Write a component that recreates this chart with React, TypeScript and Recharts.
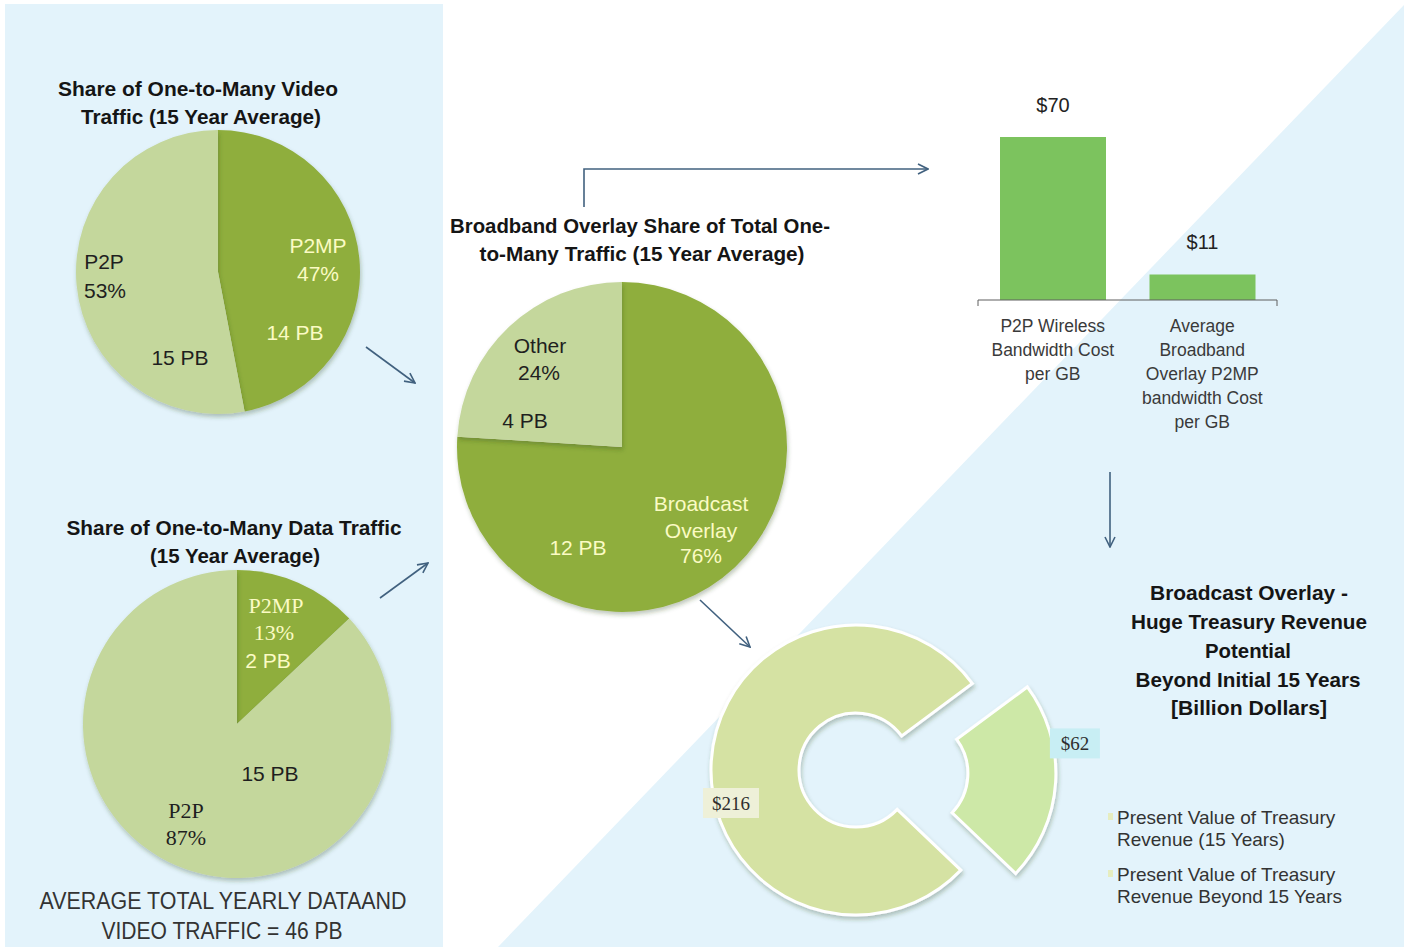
import React from 'react';
import { PieChart, Pie, Cell, BarChart, Bar, XAxis, YAxis, LabelList, Legend } from 'recharts';

const SANS = '"Liberation Sans", Arial, sans-serif';
const SERIF = '"Liberation Serif", "DejaVu Serif", serif';

// one-to-many video traffic
const videoNames = ['P2MP', 'P2P'];
const videoShares = [47, 53];
const videoVolumes = [14, 15];

// one-to-many data traffic
const dataNames = ['P2MP', 'P2P'];
const dataShares = [13, 87];
const dataVolumes = [2, 15];

// broadband overlay share
const overlayNames = ['Broadcast\nOverlay', 'Other'];
const overlayShares = [76, 24];
const overlayVolumes = [12, 4];

// cost per GB
const costCategories = [
  'P2P Wireless\nBandwidth Cost\nper GB',
  'Average\nBroadband\nOverlay P2MP\nbandwidth Cost\nper GB',
];
const costValues = [70, 11];

// treasury revenue, billion dollars
const revenueNames = [
  'Present Value of Treasury\nRevenue (15 Years)',
  'Present Value of Treasury\nRevenue Beyond 15 Years',
];
const revenueValues = [216, 62];

const DARK = '#8fae3e';
const LIGHT = '#c4d79c';
const ON_DARK = '#fbfbc4';
const INK = '#1f1f1f';
const BG = '#e3f3fb';
const ARROW = '#41617f';
const BAR = '#7cc35e';
const REV_COLORS = ['#d5e2a3', '#cde8a7'];

type Pos = { dx: number; dy: number; serif?: boolean };

// label placement, offsets from the pie centre
const videoLayout: Pos[][] = [
  [{ dx: 100, dy: -27 }, { dx: 100, dy: 1 }, { dx: 77, dy: 60 }],
  [{ dx: -114, dy: -11 }, { dx: -113, dy: 18 }, { dx: -38, dy: 85 }],
];
const dataLayout: Pos[][] = [
  [{ dx: 39, dy: -119, serif: true }, { dx: 37, dy: -92, serif: true }, { dx: 31, dy: -64 }],
  [{ dx: -51, dy: 86, serif: true }, { dx: -51, dy: 113, serif: true }, { dx: 33, dy: 49 }],
];
const overlayLayout: Pos[][] = [
  [{ dx: 79, dy: 56 }, { dx: 79, dy: 83 }, { dx: 79, dy: 108 }, { dx: -44, dy: 100 }],
  [{ dx: -82, dy: -102 }, { dx: -83, dy: -75 }, { dx: -97, dy: -27 }],
];

const TITLES = [
  { t: 'Share of One-to-Many  Video', x: 198, y: 88, w: 280, bold: true },
  { t: 'Traffic (15 Year Average)', x: 201, y: 116, w: 240, bold: true },
  { t: 'Share of One-to-Many  Data Traffic', x: 234, y: 527, w: 335, bold: true },
  { t: '(15 Year Average)', x: 235, y: 555, w: 170, bold: true },
  { t: 'AVERAGE TOTAL YEARLY DATAAND', x: 223, y: 901, w: 367, bold: false },
  { t: 'VIDEO TRAFFIC = 46 PB', x: 222, y: 931, w: 241, bold: false },
  { t: 'Broadband Overlay Share of Total One-', x: 640, y: 225, w: 380, bold: true },
  { t: 'to-Many Traffic (15 Year Average)', x: 642, y: 253, w: 325, bold: true },
  { t: 'Broadcast Overlay -', x: 1249, y: 592, w: 198, bold: true },
  { t: 'Huge Treasury Revenue', x: 1249, y: 621, w: 236, bold: true },
  { t: 'Potential', x: 1248, y: 650, w: 86, bold: true },
  { t: 'Beyond Initial 15 Years', x: 1248, y: 679, w: 225, bold: true },
  { t: '[Billion Dollars]', x: 1249, y: 707, w: 156, bold: true },
];

const ARROWS = [
  '366,347 415,383',
  '380,598 428,563',
  '700,600 750,647',
  '1110,472 1110,547',
  '584,207 584,169 928,169',
];

function Backdrop() {
  return (
    <svg width={1404} height={947} style={{ position: 'absolute', left: 0, top: 0 }}>
      <defs>
        <marker id="head" viewBox="0 0 12 12" refX="11" refY="6" markerWidth="12" markerHeight="12"
          markerUnits="userSpaceOnUse" orient="auto">
          <path d="M1,1 L11,6 L1,11" fill="none" stroke={ARROW} strokeWidth="1.6" />
        </marker>
        <filter id="shade" x="-20%" y="-20%" width="140%" height="140%">
          <feDropShadow dx="1" dy="3" stdDeviation="2" floodColor="#334422" floodOpacity="0.3" />
        </filter>
      </defs>
      <rect x={5} y={4} width={438} height={943} fill={BG} />
      <polygon points="1404,5 1404,947 498,947" fill={BG} />
      {ARROWS.map((pts, i) => (
        <polyline key={i} points={pts} fill="none" stroke={ARROW} strokeWidth={1.6} markerEnd="url(#head)" />
      ))}
      {TITLES.map((l, i) => (
        <text key={i} x={l.x} y={l.y} textAnchor="middle" dominantBaseline="central"
          fontFamily={SANS} fontWeight={l.bold ? 700 : 400} fontSize={l.bold ? 21 : 23}
          fill={l.bold ? '#151515' : '#333'} textLength={l.w} lengthAdjust="spacingAndGlyphs">
          {l.t}
        </text>
      ))}
    </svg>
  );
}

function SharePie(props: {
  names: string[]; shares: number[]; volumes: number[];
  colors: string[]; inks: string[]; layout: Pos[][];
  cx: number; cy: number; radius: number;
}) {
  const { names, shares, volumes, colors, inks, layout, cx, cy, radius } = props;
  const rows = names.map((name, i) => ({ name, share: shares[i], volume: volumes[i] }));
  const size = radius * 2 + 40;

  const renderLabel = (p: any) => {
    const i = p.index;
    const row = rows[i];
    const lines = [...row.name.split('\n'), `${row.share}%`, `${row.volume} PB`];
    return (
      <g>
        {lines.map((t, j) => {
          const pos = layout[i][j];
          return (
            <text key={j} x={p.cx + pos.dx} y={p.cy + pos.dy} textAnchor="middle" dominantBaseline="central"
              fontFamily={pos.serif ? SERIF : SANS} fontSize={pos.serif ? 22 : 21} fill={inks[i]}>
              {t}
            </text>
          );
        })}
      </g>
    );
  };

  return (
    <div style={{ position: 'absolute', left: cx - size / 2, top: cy - size / 2 }}>
      <PieChart width={size} height={size} margin={{ top: 0, right: 0, bottom: 0, left: 0 }}>
        <Pie data={rows} dataKey="share" nameKey="name" cx={size / 2} cy={size / 2} outerRadius={radius}
          startAngle={90} endAngle={-270} stroke="none" label={renderLabel} labelLine={false}
          isAnimationActive={false}>
          {rows.map((_, i) => <Cell key={i} fill={colors[i]} filter="url(#shade)" />)}
        </Pie>
      </PieChart>
    </div>
  );
}

const CostTick = (p: any) => {
  const lines = String(p.payload.value).split('\n');
  return (
    <g>
      {lines.map((t, j) => (
        <text key={j} x={p.x} y={p.y + 25 + j * 24} textAnchor="middle" dominantBaseline="central"
          fontFamily={SANS} fontSize={17.5} fill="#3a3a3a">
          {t}
        </text>
      ))}
    </g>
  );
};

const NoTick = () => <g />;

function CostBars() {
  const rows = costCategories.map((name, i) => ({ name, cost: costValues[i] }));
  return (
    <div style={{ position: 'absolute', left: 950, top: 80 }}>
      <BarChart width={350} height={380} data={rows} margin={{ top: 57, right: 23, bottom: 0, left: 28 }}>
        <XAxis xAxisId="z_cat" dataKey="name" axisLine={false} tickLine={false} tickSize={0} tickMargin={0}
          height={159} interval={0} tick={<CostTick />} />
        <XAxis xAxisId="a_edge" type="number" domain={[0, 2]} ticks={[0, 1, 2]} tick={<NoTick />} height={1}
          tickSize={6} tickLine={{ stroke: '#5e5e5e' }} axisLine={{ stroke: '#5e5e5e' }} />
        <YAxis hide domain={[0, 70]} />
        <Bar xAxisId="z_cat" dataKey="cost" fill={BAR} barSize={106} isAnimationActive={false}>
          <LabelList dataKey="cost" content={(p: any) => (
            <text x={p.x + p.width / 2} y={p.y - 32} textAnchor="middle" dominantBaseline="central"
              fontFamily={SANS} fontSize={20} fill="#222">
              {`$${p.value}`}
            </text>
          )} />
        </Bar>
      </BarChart>
    </div>
  );
}

function RevenueDonut() {
  const rows = revenueNames.map((name, i) => ({ name, value: revenueValues[i] }));
  const total = revenueValues.reduce((a, b) => a + b, 0);
  const start = 36.6;
  const smallStart = start + (revenueValues[0] / total) * 360;
  const smallMid = ((smallStart + start + 360) / 2) * (Math.PI / 180);
  const explode = 55;
  const cx = 166;
  const cy = 180;
  const ox = explode * Math.cos(smallMid);
  const oy = -explode * Math.sin(smallMid);

  const boxes = [
    { dx: -125, dy: 33, w: 56, fill: '#eef0d8' },
    { dx: 164, dy: -30, w: 50, fill: '#c8eef4' },
  ];
  const labelFor = (which: number) => (p: any) => {
    if (p.index !== which) return <g />;
    const b = boxes[which];
    return (
      <g>
        <rect x={p.cx + b.dx - b.w / 2} y={p.cy + b.dy - 15} width={b.w} height={30} fill={b.fill} />
        <text x={p.cx + b.dx} y={p.cy + b.dy} textAnchor="middle" dominantBaseline="central"
          fontFamily={SERIF} fontSize={19} fill="#2e2e2e">
          {`$${p.value}`}
        </text>
      </g>
    );
  };

  const legend = () => (
    <svg width={260} height={110}>
      {rows.map((r, i) => (
        <g key={i}>
          <rect x={0} y={i * 57 + 7} width={5} height={7} fill="#e6edc0" />
          {r.name.split('\n').map((t, j) => (
            <text key={j} x={9} y={i * 57 + 11 + j * 22} dominantBaseline="central" fontFamily={SANS}
              fontSize={19} fill="#333">
              {t}
            </text>
          ))}
        </g>
      ))}
    </svg>
  );

  return (
    <div style={{ position: 'absolute', left: 690, top: 590 }}>
      <PieChart width={700} height={357} margin={{ top: 0, right: 0, bottom: 0, left: 0 }}>
        <Pie data={rows} dataKey="value" cx={cx} cy={cy} innerRadius={57} outerRadius={145}
          startAngle={start} endAngle={start + 360} stroke="#ffffff" strokeWidth={3}
          label={labelFor(0)} labelLine={false} isAnimationActive={false}>
          <Cell fill={REV_COLORS[0]} filter="url(#shade)" />
          <Cell fill="transparent" stroke="none" />
        </Pie>
        <Pie data={rows} dataKey="value" cx={cx + ox} cy={cy + oy} innerRadius={57} outerRadius={145}
          startAngle={start} endAngle={start + 360} stroke="#ffffff" strokeWidth={3}
          label={labelFor(1)} labelLine={false} isAnimationActive={false}>
          <Cell fill="transparent" stroke="none" />
          <Cell fill={REV_COLORS[1]} filter="url(#shade)" />
        </Pie>
        <Legend layout="vertical" align="center" verticalAlign="middle" content={legend}
          wrapperStyle={{ left: 418, top: 216, width: 260 }} />
      </PieChart>
    </div>
  );
}

export default function App() {
  return (
    <div style={{ position: 'absolute', left: 0, top: 0, width: 1404, height: 947, background: '#fff', overflow: 'hidden' }}>
      <Backdrop />
      <SharePie names={videoNames} shares={videoShares} volumes={videoVolumes}
        colors={[DARK, LIGHT]} inks={[ON_DARK, INK]} layout={videoLayout} cx={218} cy={272} radius={142} />
      <SharePie names={dataNames} shares={dataShares} volumes={dataVolumes}
        colors={[DARK, LIGHT]} inks={[ON_DARK, INK]} layout={dataLayout} cx={237} cy={724} radius={154} />
      <SharePie names={overlayNames} shares={overlayShares} volumes={overlayVolumes}
        colors={[DARK, LIGHT]} inks={[ON_DARK, INK]} layout={overlayLayout} cx={622} cy={447} radius={165} />
      <CostBars />
      <RevenueDonut />
    </div>
  );
}
